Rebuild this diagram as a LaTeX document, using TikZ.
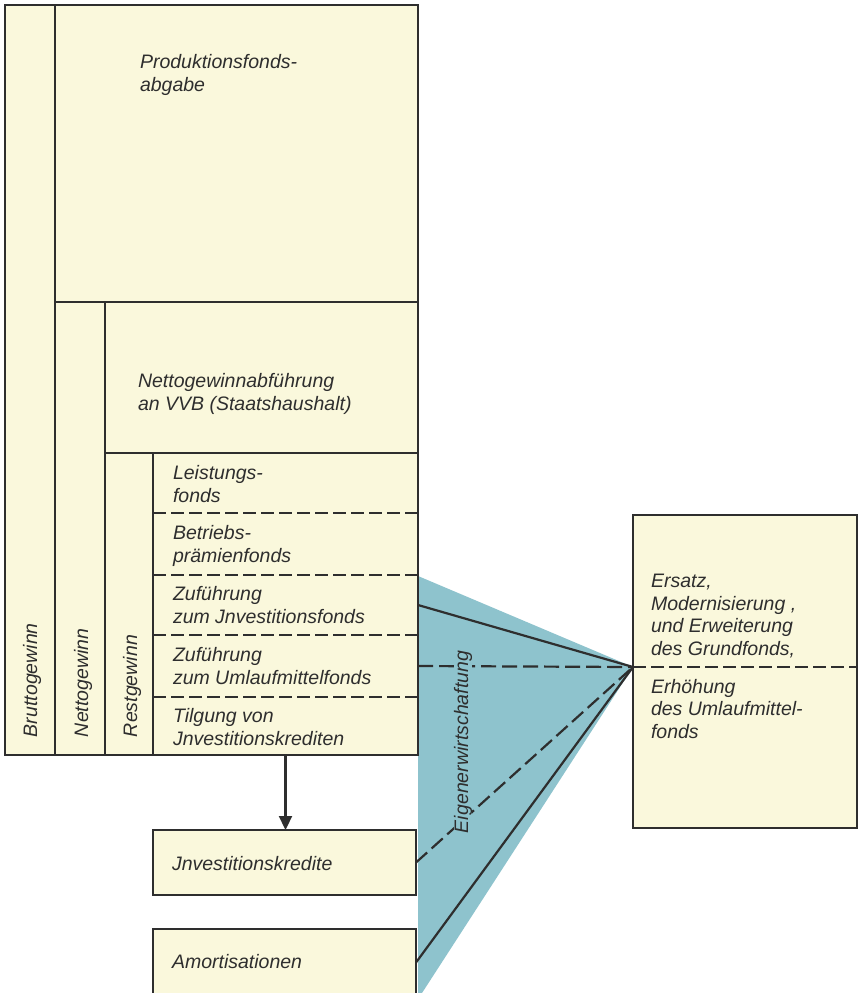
\documentclass[tikz,border=0pt]{standalone}
\usepackage{fontspec}
\setmainfont{Liberation Sans}
\usetikzlibrary{arrows.meta}
\definecolor{paper}{HTML}{FAF8DC}
\definecolor{wash}{HTML}{8EC3CD}
\definecolor{ink}{HTML}{2E2E2E}

\begin{document}
\begin{tikzpicture}[x=1pt,y=-1pt,
  every node/.style={inner sep=0pt, outer sep=0pt},
  field/.style={rectangle, draw=ink, line width=2.2pt, fill=paper},
  cell/.style={rectangle, fill=paper},
  txt/.style={font=\fontsize{19.5}{22.5}\selectfont\itshape, text=ink, align=left, anchor=base west},
  vtxt/.style={txt, rotate=90},
  sepline/.style={draw=ink, line width=2.2pt, dash pattern=on 13pt off 5pt},
  link/.style={draw=ink, line width=2.2pt},
  dlink/.style={link, dash pattern=on 15pt off 6pt},
]
\useasboundingbox (0,0) rectangle (862,993);
\clip (0,0) rectangle (862,993);
\fill[white] (0,0) rectangle (862,993);

% shaded wedge of self-financing
\fill[wash] (418,576) -- (633,667) -- (422,993) -- (418,993) -- cycle;

% profit breakdown columns
\node[field, minimum width=50pt, minimum height=750pt] (brutto) at (30,380) {};
\node[field, minimum width=363pt, minimum height=297pt] (pfa) at (236.5,153.5) {};
\node[field, minimum width=50pt, minimum height=453pt] (netto) at (80,528.5) {};
\node[field, minimum width=313pt, minimum height=151pt] (nga) at (261.5,377.5) {};
\node[field, minimum width=48pt, minimum height=302pt] (rest) at (129,604) {};

% funds from the remaining profit
\node[cell, minimum width=265pt, minimum height=60pt] (leist) at (285.5,483) {};
\node[cell, minimum width=265pt, minimum height=62pt] (betr) at (285.5,544) {};
\node[cell, minimum width=265pt, minimum height=60pt] (zinv) at (285.5,605) {};
\node[cell, minimum width=265pt, minimum height=62pt] (zuml) at (285.5,666) {};
\node[cell, minimum width=265pt, minimum height=58pt] (tilg) at (285.5,726) {};
\draw[link] (leist.north west) rectangle (tilg.south east);
\draw[sepline] (leist.south west) -- (leist.south east);
\draw[sepline] (betr.south west) -- (betr.south east);
\draw[sepline] (zinv.south west) -- (zinv.south east);
\draw[sepline] (zuml.south west) -- (zuml.south east);

% credits and depreciation
\node[field, minimum width=263pt, minimum height=65pt] (ikred) at (284.5,862.5) {};
\node[field, minimum width=263pt, minimum height=67pt] (amort) at (284.5,962.5) {};

% use of the funds
\node[field, minimum width=224pt, minimum height=313pt] (use) at (745,671.5) {};
\coordinate (apex) at (633,667);
\coordinate (apexE) at (857,667);
\draw[sepline] (apex) -- (apexE);

% connectors
\draw[link, -{Triangle[width=13pt,length=14pt]}] (tilg.south) -- (tilg.south |- ikred.north);
\draw[link] (zinv.east) -- (apex);
\draw[dlink] (zuml.east) -- (apex);
\draw[dlink] (ikred.east) -- (apex);
\draw[link] (amort.east) -- (apex);

% labels (multi-line nodes sit on the baseline of their last line)
\node[txt] (tpfa) at (140,91) {Produktionsfonds-\\abgabe};
\node[txt] (tnga) at (138,410) {Nettogewinnabführung\\an VVB (Staatshaushalt)};
\node[txt] (tleist) at (173,502) {Leistungs-\\fonds};
\node[txt] (tbetr) at (173,562) {Betriebs-\\prämienfonds};
\node[txt] (tzinv) at (173,623) {Zuführung\\zum Jnvestitionsfonds};
\node[txt] (tzuml) at (173,684) {Zuführung\\zum Umlaufmittelfonds};
\node[txt] (ttilg) at (173,745) {Tilgung von\\Jnvestitionskrediten};
\node[txt] (tikred) at (172,870) {Jnvestitionskredite};
\node[txt] (tamort) at (172,968) {Amortisationen};
\node[txt] (tuse1) at (651,655) {Ersatz,\\Modernisierung ,\\und Erweiterung\\des Grundfonds,};
\node[txt] (tuse2) at (651,738) {Erhöhung\\des Umlaufmittel-\\fonds};
\node[vtxt] (tbrutto) at (37,737) {Bruttogewinn};
\node[vtxt] (tnetto) at (88,737) {Nettogewinn};
\node[vtxt] (trest) at (137,737) {Restgewinn};
\node[vtxt, fill=wash, inner xsep=2pt] (teigen) at (468,835) {Eigenerwirtschaftung};
\end{tikzpicture}
\end{document}
